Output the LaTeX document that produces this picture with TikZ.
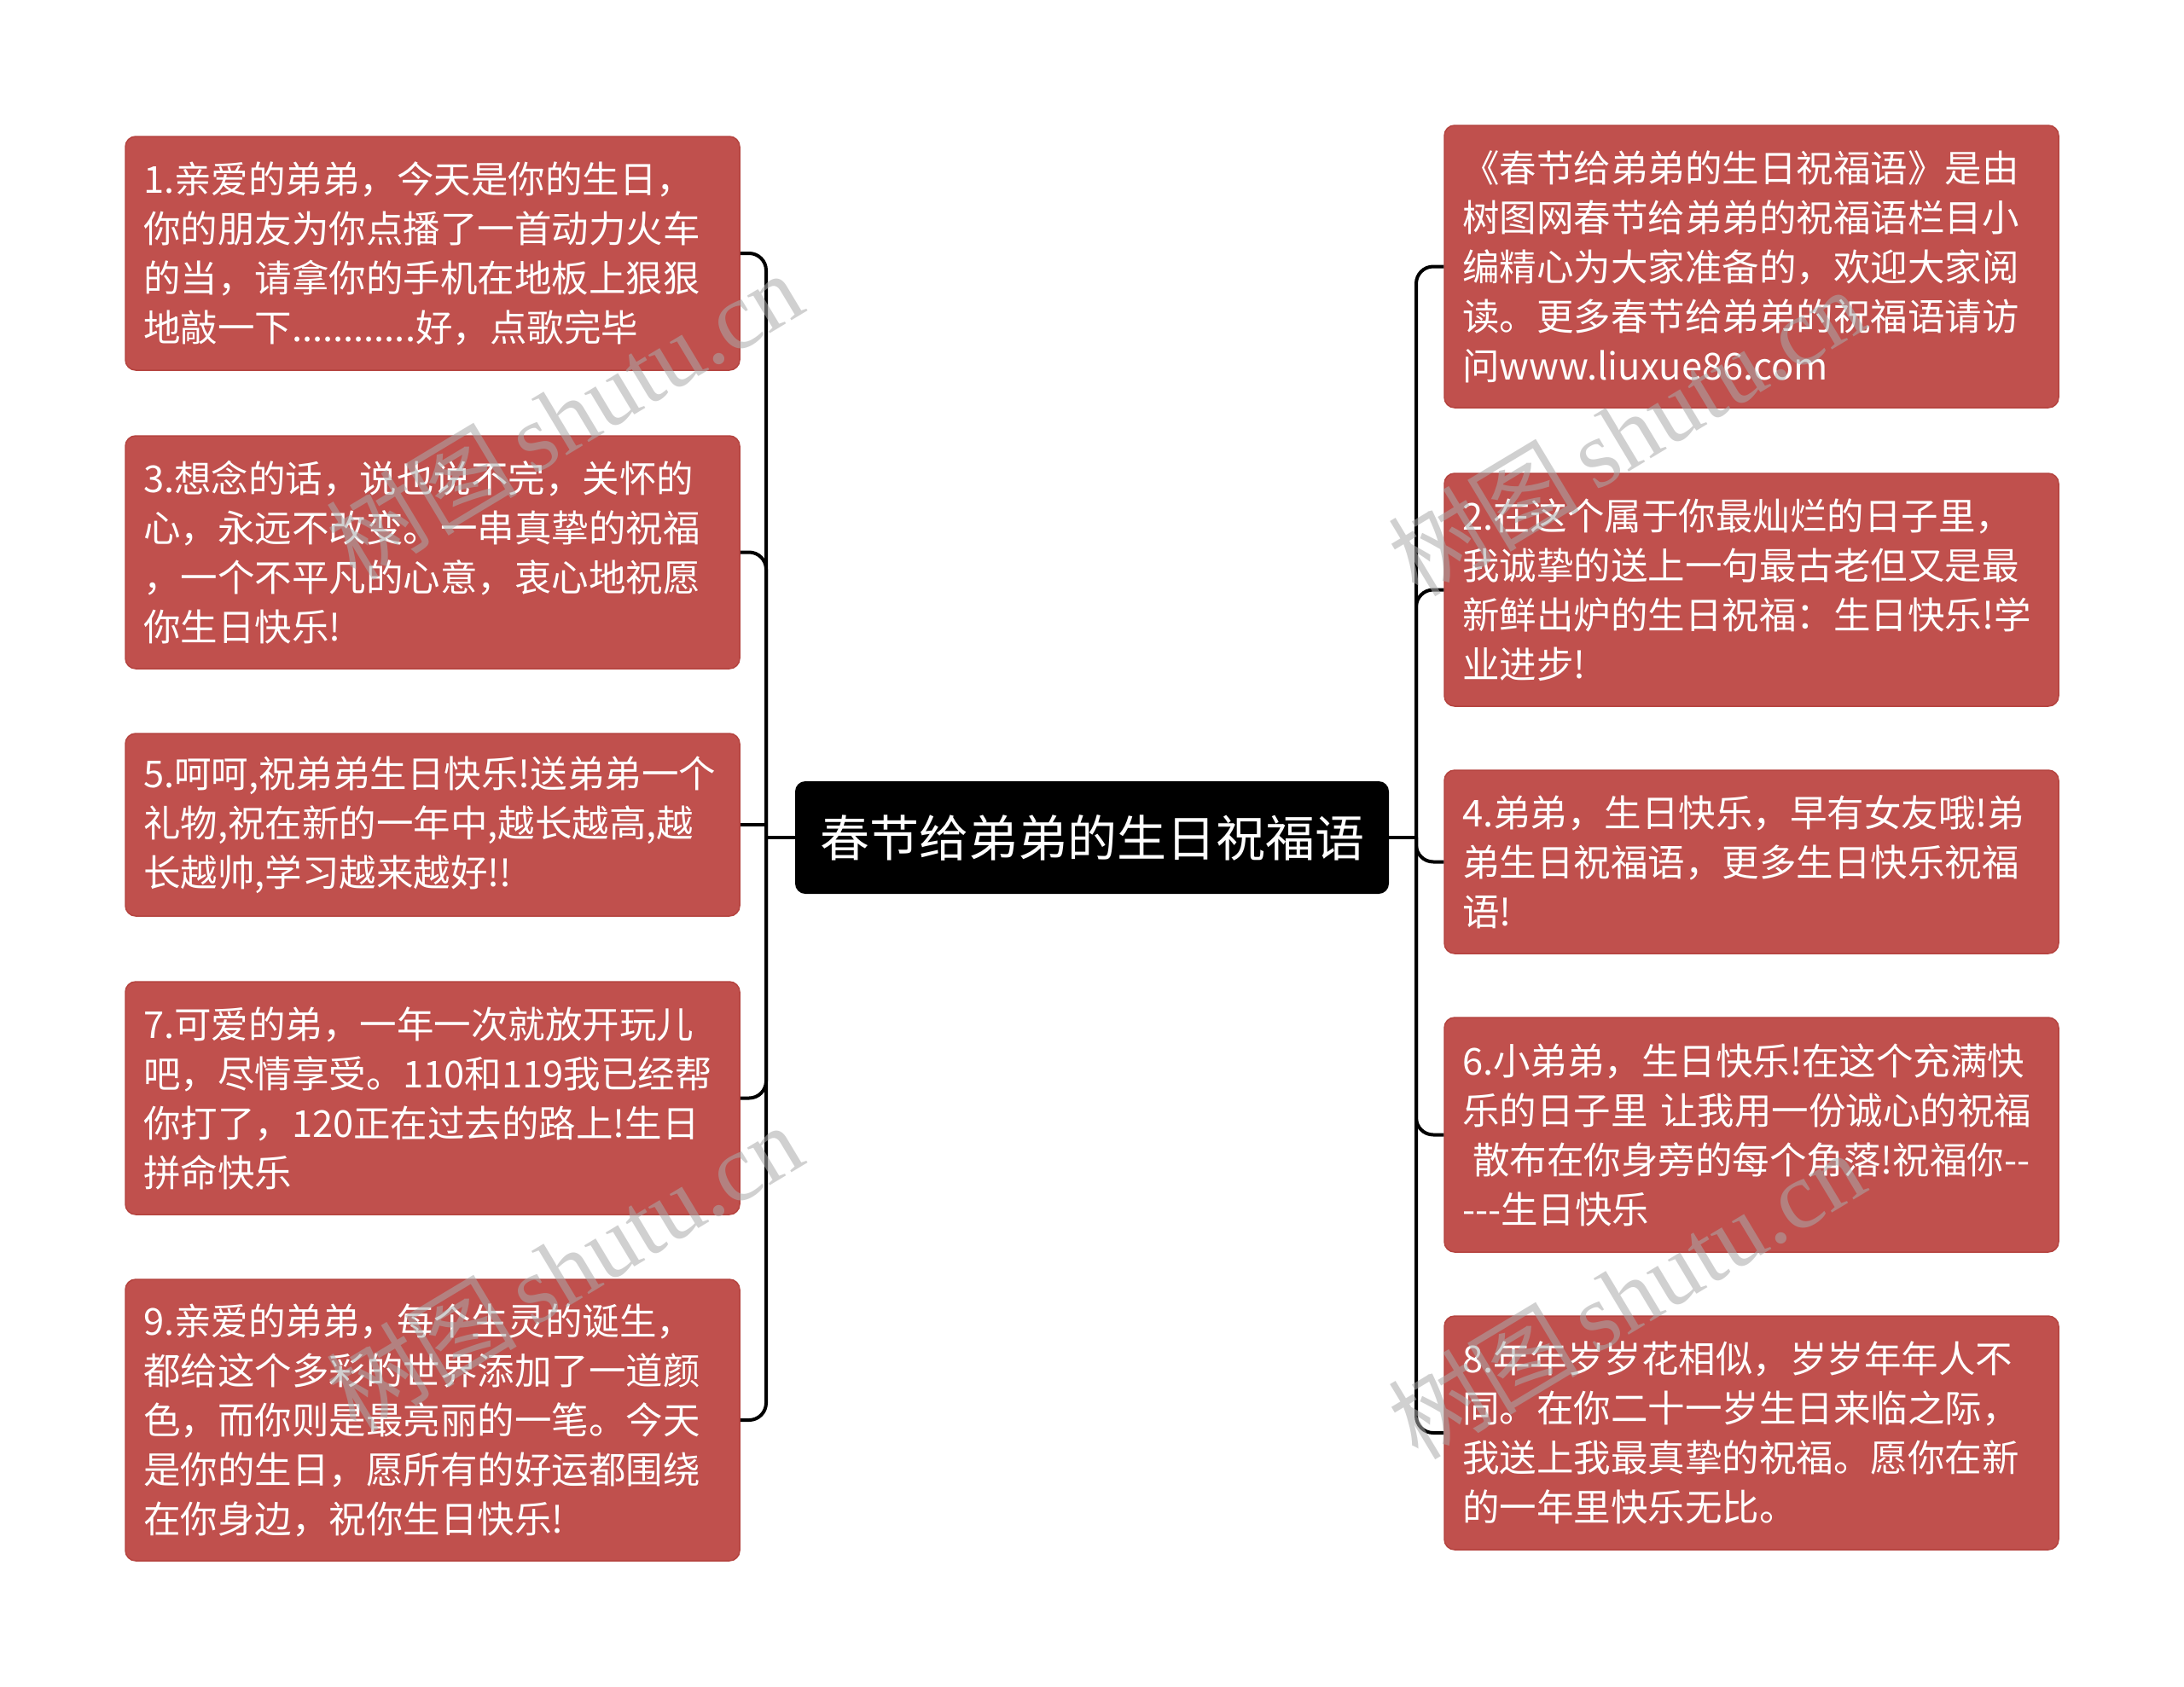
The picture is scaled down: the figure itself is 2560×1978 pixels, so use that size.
\documentclass[tikz,border=0pt]{standalone}
\usepackage{fontspec}
\setmainfont{Noto Sans CJK SC}
\newfontfamily\wmserif{Liberation Serif}
\newfontfamily\wmcjk{Noto Sans CJK SC}
\definecolor{boxred}{HTML}{C0504D}
\definecolor{boxedge}{HTML}{B5433F}
\definecolor{wmgray}{RGB}{170,170,170}
\begin{document}
\begin{tikzpicture}[x=1pt,y=-1pt,
  leaf/.style={draw=boxedge, line width=1.5pt, fill=boxred, rounded corners=12pt,
    text=white, font=\fontsize{43.5}{58}\selectfont, text width=678pt,
    inner xsep=21pt, inner ysep=0pt, align=left},
  root/.style={fill=black, rounded corners=12pt, text=white,
    font=\fontsize{58}{70}\selectfont, minimum width=696pt, minimum height=132pt, inner sep=0pt},
  conn/.style={draw=black, line width=4pt, rounded corners=20pt},
  wm/.style={text=wmgray, text opacity=0.55, font=\fontsize{112}{112}\selectfont, rotate=31}
]
\useasboundingbox[fill=white] (0,0) rectangle (2560,1978);

% root
\node[root] (root) at (1280,982) {春节给弟弟的生日祝福语};

% left branch
\node[leaf, minimum height=274pt] (b1) at (507,297) {1.亲爱的弟弟，今天是你的生日，\\你的朋友为你点播了一首动力火车\\的当，请拿你的手机在地板上狠狠\\地敲一下............好，点歌完毕};
\node[leaf, minimum height=273pt] (b3) at (507,647.5) {3.想念的话，说也说不完，关怀的\\心，永远不改变。一串真挚的祝福\\，一个不平凡的心意，衷心地祝愿\\你生日快乐!};
\node[leaf, minimum height=214pt] (b5) at (507,967) {5.呵呵,祝弟弟生日快乐!送弟弟一个\\礼物,祝在新的一年中,越长越高,越\\长越帅,学习越来越好!!};
\node[leaf, minimum height=273pt] (b7) at (507,1287.5) {7.可爱的弟，一年一次就放开玩儿\\吧，尽情享受。110和119我已经帮\\你打了，120正在过去的路上!生日\\拼命快乐};
\node[leaf, minimum height=330pt] (b9) at (507,1665) {9.亲爱的弟弟，每个生灵的诞生，\\都给这个多彩的世界添加了一道颜\\色，而你则是最亮丽的一笔。今天\\是你的生日，愿所有的好运都围绕\\在你身边，祝你生日快乐!};

% right branch
\node[leaf, minimum height=331pt] (r0) at (2053,312.5) {《春节给弟弟的生日祝福语》是由\\树图网春节给弟弟的祝福语栏目小\\编精心为大家准备的，欢迎大家阅\\读。更多春节给弟弟的祝福语请访\\问www.liuxue86.com};
\node[leaf, minimum height=273pt] (r2) at (2053,691.5) {2.在这个属于你最灿烂的日子里，\\我诚挚的送上一句最古老但又是最\\新鲜出炉的生日祝福：生日快乐!学\\业进步!};
\node[leaf, minimum height=215pt] (r4) at (2053,1010.5) {4.弟弟，生日快乐，早有女友哦!弟\\弟生日祝福语，更多生日快乐祝福\\语!};
\node[leaf, minimum height=275pt] (r6) at (2053,1330.5) {6.小弟弟，生日快乐!在这个充满快\\乐的日子里 让我用一份诚心的祝福\\\hspace*{12pt}散布在你身旁的每个角落!祝福你-{}-\\-{}-{}-生日快乐};
\node[leaf, minimum height=274pt] (r8) at (2053,1680) {8.年年岁岁花相似，岁岁年年人不\\同。在你二十一岁生日来临之际，\\我送上我最真挚的祝福。愿你在新\\的一年里快乐无比。};

% connectors
\coordinate (tl) at (898,982);
\coordinate (tr) at (1660,982);
\draw[conn] (b1.east) -| (tl);
\draw[conn] (b3.east) -| (tl);
\draw[conn] (b5.east) -- (b5.east -| tl);
\draw[conn] (b7.east) -| (tl);
\draw[conn] (b9.east) -| (tl);
\draw[conn] (tl) -- (root.west);
\draw[conn] (r0.west) -| (tr);
\draw[conn] (r2.west) -| (tr);
\draw[conn] (r4.west) -| (tr);
\draw[conn] (r6.west) -| (tr);
\draw[conn] (r8.west) -| (tr);
\draw[conn] (root.east) -- (tr);

% watermarks
\node[wm] (wm1) at (661,487) {{\wmcjk 树图}\,{\wmserif shutu.cn}};
\node[wm] (wm2) at (661,1486) {{\wmcjk 树图}\,{\wmserif shutu.cn}};
\node[wm] (wm3) at (1906,506) {{\wmcjk 树图}\,{\wmserif shutu.cn}};
\node[wm] (wm4) at (1906,1518) {{\wmcjk 树图}\,{\wmserif shutu.cn}};
\end{tikzpicture}
\end{document}
